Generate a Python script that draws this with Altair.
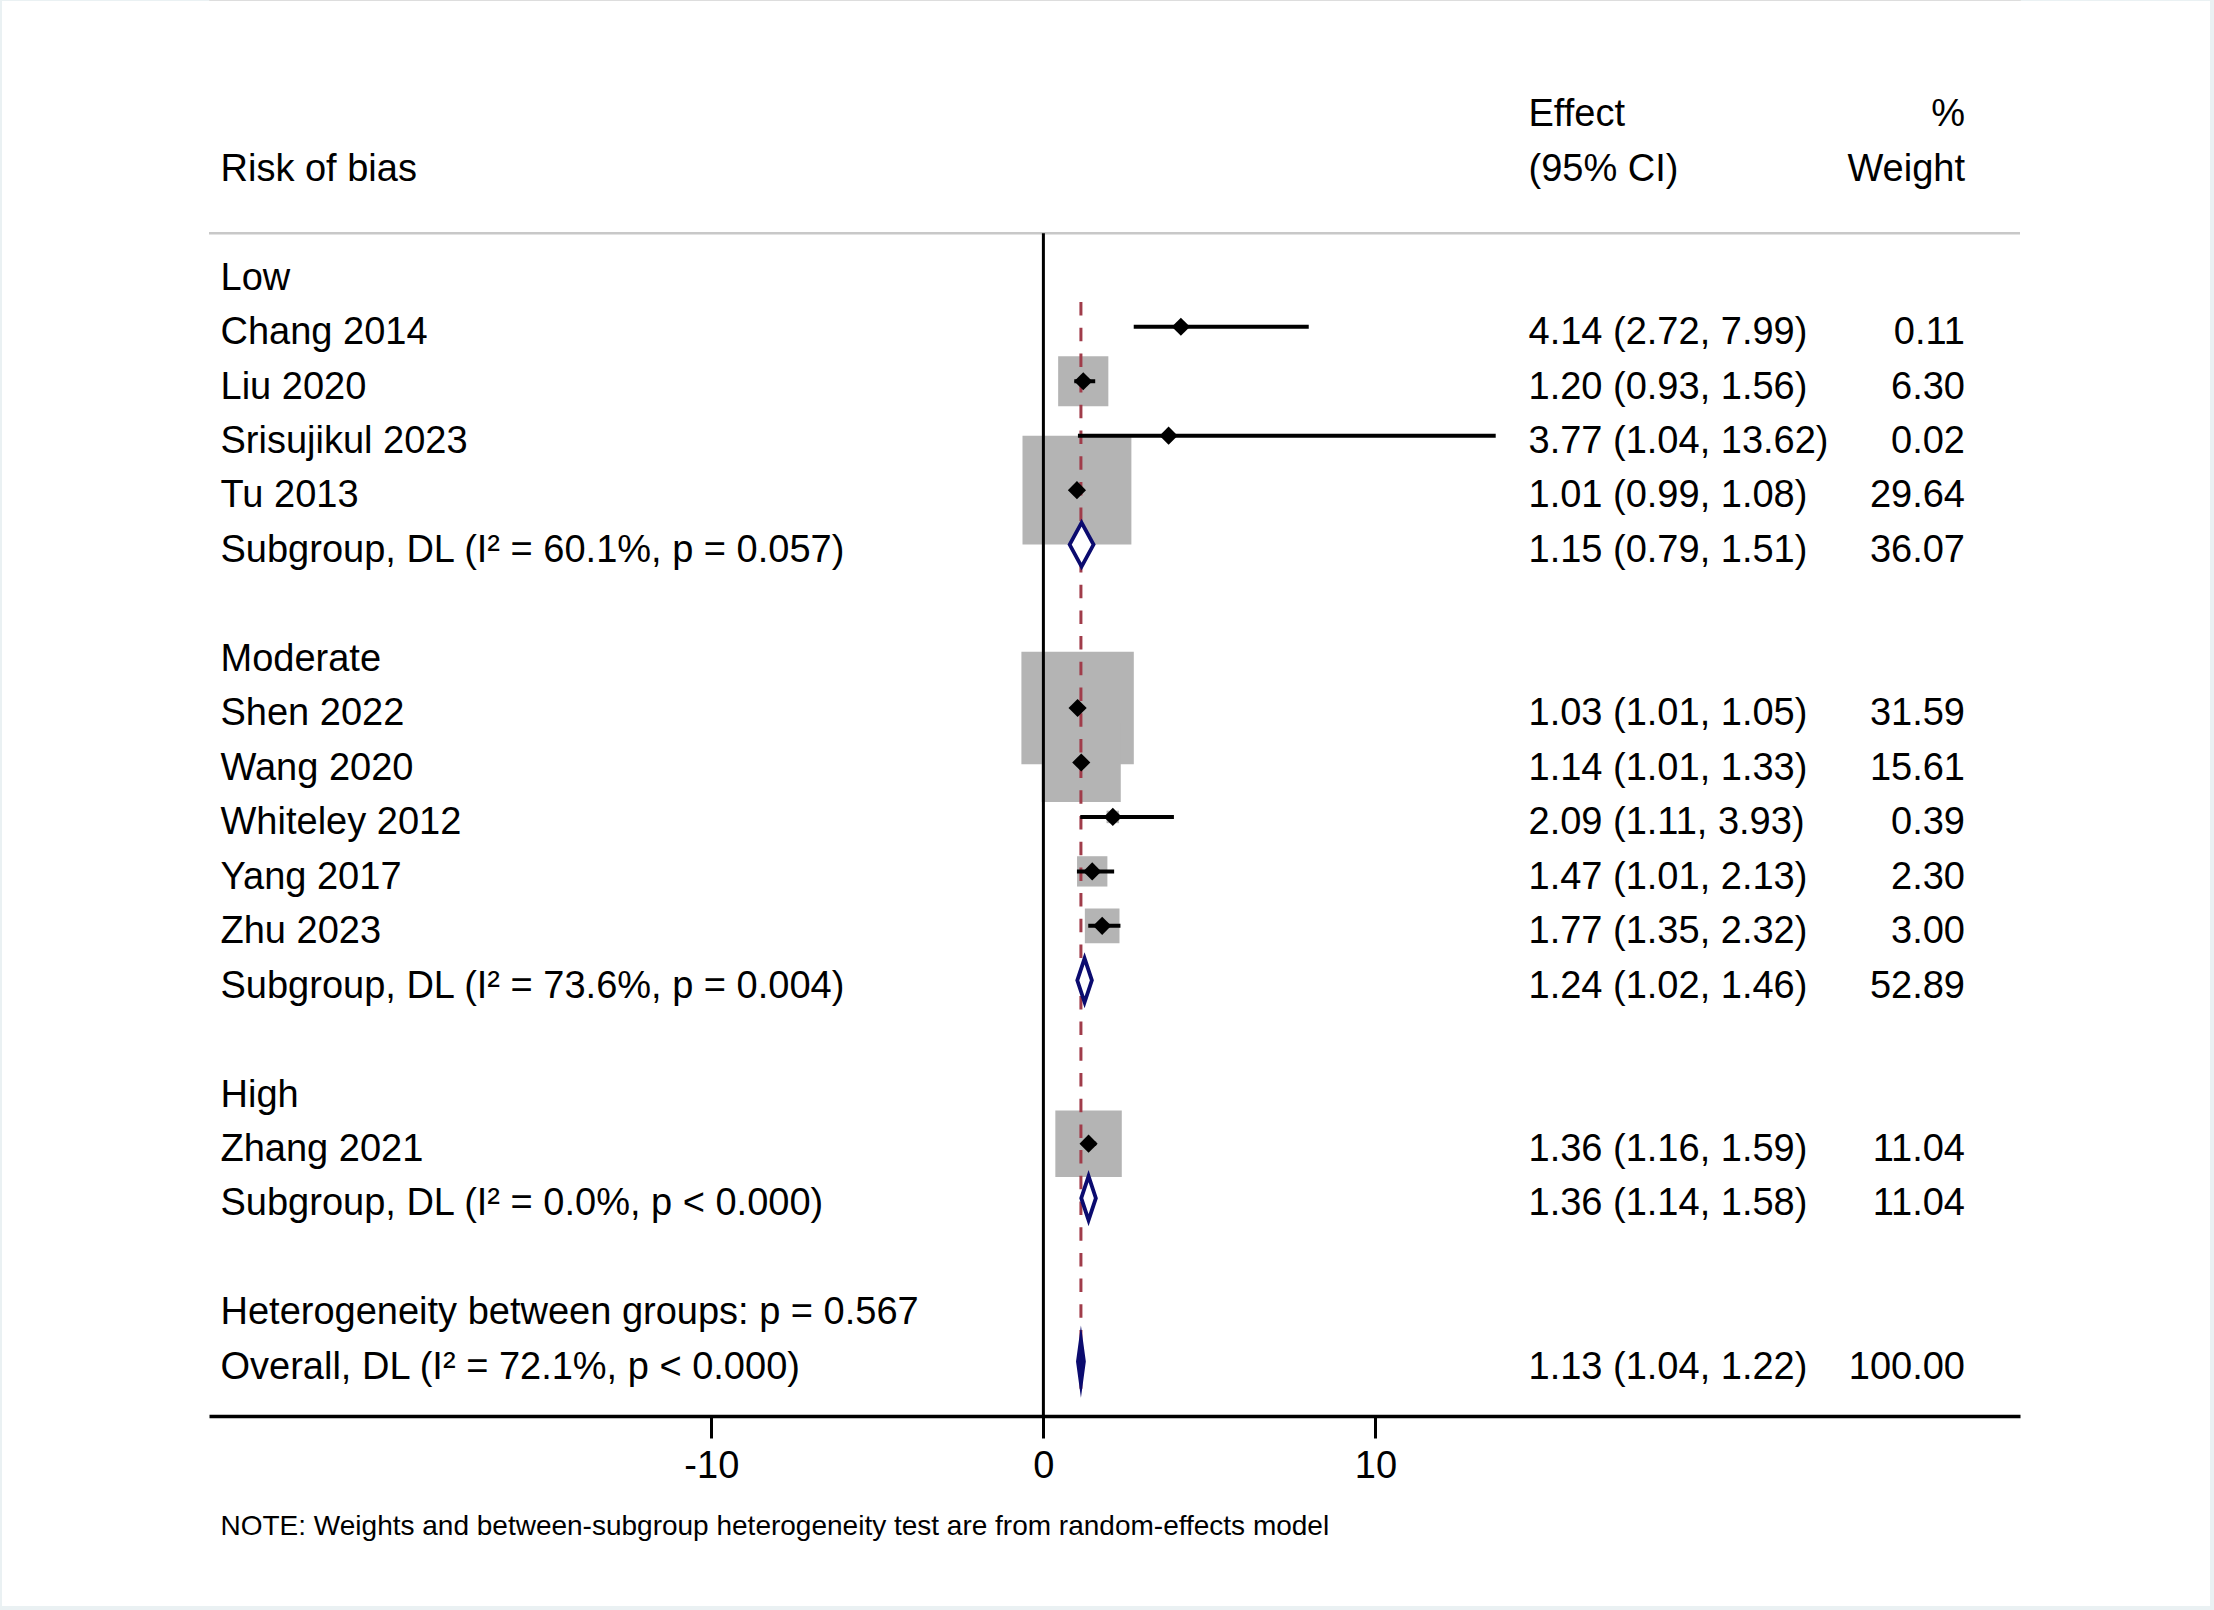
import altair as alt
import pandas as pd

# ------------------------------------------------------------------ data
groups = ["Low", "Moderate", "High"]
study_names = ["Chang 2014", "Liu 2020", "Srisujikul 2023", "Tu 2013",
               "Shen 2022", "Wang 2020", "Whiteley 2012", "Yang 2017", "Zhu 2023",
               "Zhang 2021"]
study_group = ["Low", "Low", "Low", "Low",
               "Moderate", "Moderate", "Moderate", "Moderate", "Moderate",
               "High"]
study_est = [4.14, 1.20, 3.77, 1.01, 1.03, 1.14, 2.09, 1.47, 1.77, 1.36]
study_lo = [2.72, 0.93, 1.04, 0.99, 1.01, 1.01, 1.11, 1.01, 1.35, 1.16]
study_hi = [7.99, 1.56, 13.62, 1.08, 1.05, 1.33, 3.93, 2.13, 2.32, 1.59]
study_weight = [0.11, 6.30, 0.02, 29.64, 31.59, 15.61, 0.39, 2.30, 3.00, 11.04]

sub_est = [1.15, 1.24, 1.36]
sub_lo = [0.79, 1.02, 1.14]
sub_hi = [1.51, 1.46, 1.58]
sub_weight = [36.07, 52.89, 11.04]
sub_i2 = ["60.1%", "73.6%", "0.0%"]
sub_p = ["p = 0.057", "p = 0.004", "p < 0.000"]

overall_est = [1.13]
overall_lo = [1.04]
overall_hi = [1.22]
overall_weight = [100.00]
overall_i2 = "72.1%"
overall_p = "p < 0.000"
between_p = "p = 0.567"

header_left = ["", "Risk of bias"]
header_effect = ["Effect", "(95% CI)"]
header_weight = ["%", "Weight"]
note = "NOTE: Weights and between-subgroup heterogeneity test are from random-effects model"
x_ticks = [-10, 0, 10]

# ------------------------------------------------------------------ layout of rows
H = 22 / 54.46  # half height of summary diamonds (row units)

text_rows = []
study_rows = []
diamond_rows = []
for k in range(2):
    text_rows.append(dict(row=-3 + k, label=header_left[k],
                          effect=header_effect[k], weight=header_weight[k]))

r = 0
for gi, g in enumerate(groups):
    text_rows.append(dict(row=r, label=g, effect="", weight=""))
    r += 1
    for i, s in enumerate(study_names):
        if study_group[i] != g:
            continue
        text_rows.append(dict(
            row=r, label=s,
            effect=f"{study_est[i]:.2f} ({study_lo[i]:.2f}, {study_hi[i]:.2f})",
            weight=f"{study_weight[i]:.2f}"))
        study_rows.append(dict(row=r, est=study_est[i], lo=study_lo[i],
                               hi=study_hi[i], weight=study_weight[i]))
        r += 1
    text_rows.append(dict(
        row=r, label=f"Subgroup, DL (I\u00b2 = {sub_i2[gi]}, {sub_p[gi]})",
        effect=f"{sub_est[gi]:.2f} ({sub_lo[gi]:.2f}, {sub_hi[gi]:.2f})",
        weight=f"{sub_weight[gi]:.2f}"))
    for xv, kk in [(sub_lo[gi], 0), (sub_est[gi], 1), (sub_hi[gi], 0)]:
        diamond_rows.append(dict(id=g, x=xv, y=r - H * kk, y2=r + H * kk))
    r += 1
    r += 1  # blank row

text_rows.append(dict(row=r, label=f"Heterogeneity between groups: {between_p}",
                      effect="", weight=""))
r += 1
text_rows.append(dict(
    row=r, label=f"Overall, DL (I\u00b2 = {overall_i2}, {overall_p})",
    effect=f"{overall_est[0]:.2f} ({overall_lo[0]:.2f}, {overall_hi[0]:.2f})",
    weight=f"{overall_weight[0]:.2f}"))
overall_rows = []
for xv, kk in [(overall_lo[0], 0), (overall_est[0], 1), (overall_hi[0], 0)]:
    overall_rows.append(dict(id="overall", x=xv, y=r - H * kk, y2=r + H * kk))

text_df = pd.DataFrame(text_rows)
study_df = pd.DataFrame(study_rows)
dia_df = pd.DataFrame(diamond_rows)
ov_df = pd.DataFrame(overall_rows)
ov_line_df = pd.DataFrame({"est": overall_est})
one = pd.DataFrame({"k": [0]})

# ------------------------------------------------------------------ scales / styles
FONT = "Liberation Sans"
NAVY = "#0b0b6f"
W, HGT = 1811, 1416

xscale = alt.Scale(domain=[-25.125, 29.407], nice=False, zero=False)
yscale = alt.Scale(domain=[-5, 21], reverse=True, nice=False, zero=False)

xax = alt.Axis(values=x_ticks, labelExpr="'' + datum.value", grid=False,
               orient="bottom", zindex=2,
               domainColor="black", domainWidth=3.5, tickColor="black",
               tickWidth=3, tickSize=22, labelFont=FONT, labelFontSize=38,
               labelColor="black", labelPadding=9, labelFlush=False,
               title=note, titleFont=FONT, titleFontSize=28,
               titleFontWeight="normal", titleColor="black", titleAlign="left",
               titleAnchor="start", titleX=11, titleY=118,
               titleBaseline="alphabetic")

frame = alt.Chart(one).mark_rect(color="white").encode(
    x=alt.value(-207), x2=alt.value(2001), y=alt.value(1), y2=alt.value(1606))

boxes = alt.Chart(study_df).mark_point(
    shape="square", filled=True, color="#b4b4b4", opacity=1, strokeWidth=0
).encode(
    x=alt.X("est:Q", scale=xscale, axis=xax),
    y=alt.Y("row:Q", scale=yscale, axis=None),
    size=alt.Size("weight:Q", scale=alt.Scale(type="linear", domain=[0, 100],
                                              range=[0, 40000]), legend=None),
)

gray_line = alt.Chart(one).mark_rule(color="#c8c8c8", strokeWidth=2.5).encode(
    y=alt.YDatum(-0.716, type="quantitative", scale=yscale, axis=None),
    x=alt.value(0), x2=alt.value(W))

zero_line = alt.Chart(one).mark_rule(color="black", strokeWidth=3).encode(
    x=alt.XDatum(0, type="quantitative", scale=xscale, axis=xax),
    y=alt.YDatum(-0.716, type="quantitative", scale=yscale, axis=None),
    y2=alt.Y2Datum(21))

dash_line = alt.Chart(ov_line_df).mark_rule(
    color="#a03c4a", strokeWidth=3, strokeDash=[13.5, 12.2]
).encode(
    x=alt.X("est:Q", scale=xscale, axis=xax),
    y=alt.YDatum(0.545, type="quantitative", scale=yscale, axis=None),
    y2=alt.Y2Datum(20.5))

ci = alt.Chart(study_df).mark_rule(color="black", strokeWidth=4).encode(
    x=alt.X("lo:Q", scale=xscale, axis=xax),
    x2="hi:Q",
    y=alt.Y("row:Q", scale=yscale, axis=None))

pts = alt.Chart(study_df).mark_point(
    shape="diamond", filled=True, color="black", opacity=1, size=330, strokeWidth=0
).encode(
    x=alt.X("est:Q", scale=xscale, axis=xax),
    y=alt.Y("row:Q", scale=yscale, axis=None))

sub_dia = alt.Chart(dia_df).mark_area(
    fill="white", stroke=NAVY, strokeWidth=3.8, strokeJoin="miter",
    strokeMiterLimit=10, opacity=1, interpolate="linear"
).encode(
    x=alt.X("x:Q", scale=xscale, axis=xax),
    y=alt.Y("y:Q", scale=yscale, axis=None, stack=False),
    y2="y2:Q",
    detail="id:N")

ov_dia = alt.Chart(ov_df).mark_area(
    fill=NAVY, stroke=NAVY, strokeWidth=3.8, strokeJoin="miter",
    strokeMiterLimit=10, opacity=1, interpolate="linear"
).encode(
    x=alt.X("x:Q", scale=xscale, axis=xax),
    y=alt.Y("y:Q", scale=yscale, axis=None, stack=False),
    y2="y2:Q",
    detail="id:N")


def text_layer(col, align, xpix):
    return alt.Chart(text_df).mark_text(
        align=align, baseline="alphabetic", dy=17.3, fontSize=38, font=FONT,
        color="black"
    ).encode(
        x=alt.value(xpix),
        y=alt.Y("row:Q", scale=yscale, axis=None),
        text=f"{col}:N")


t_label = text_layer("label", "left", 220.5 - 209)
t_eff = text_layer("effect", "left", 1528.5 - 209)
t_w = text_layer("weight", "right", 1965 - 209)

chart = alt.layer(
    frame, boxes, gray_line, zero_line, dash_line, ci, pts, sub_dia, ov_dia,
    t_label, t_eff, t_w
).properties(
    width=W, height=HGT,
    autosize=alt.AutoSizeParams(type="none"),
    padding={"left": 209, "top": 0, "right": 194, "bottom": 194},
    background="#eaf1f3",
).configure_view(strokeWidth=0).configure(font=FONT)

chart.save("out.html", embed_options={"renderer": "svg", "actions": False})
